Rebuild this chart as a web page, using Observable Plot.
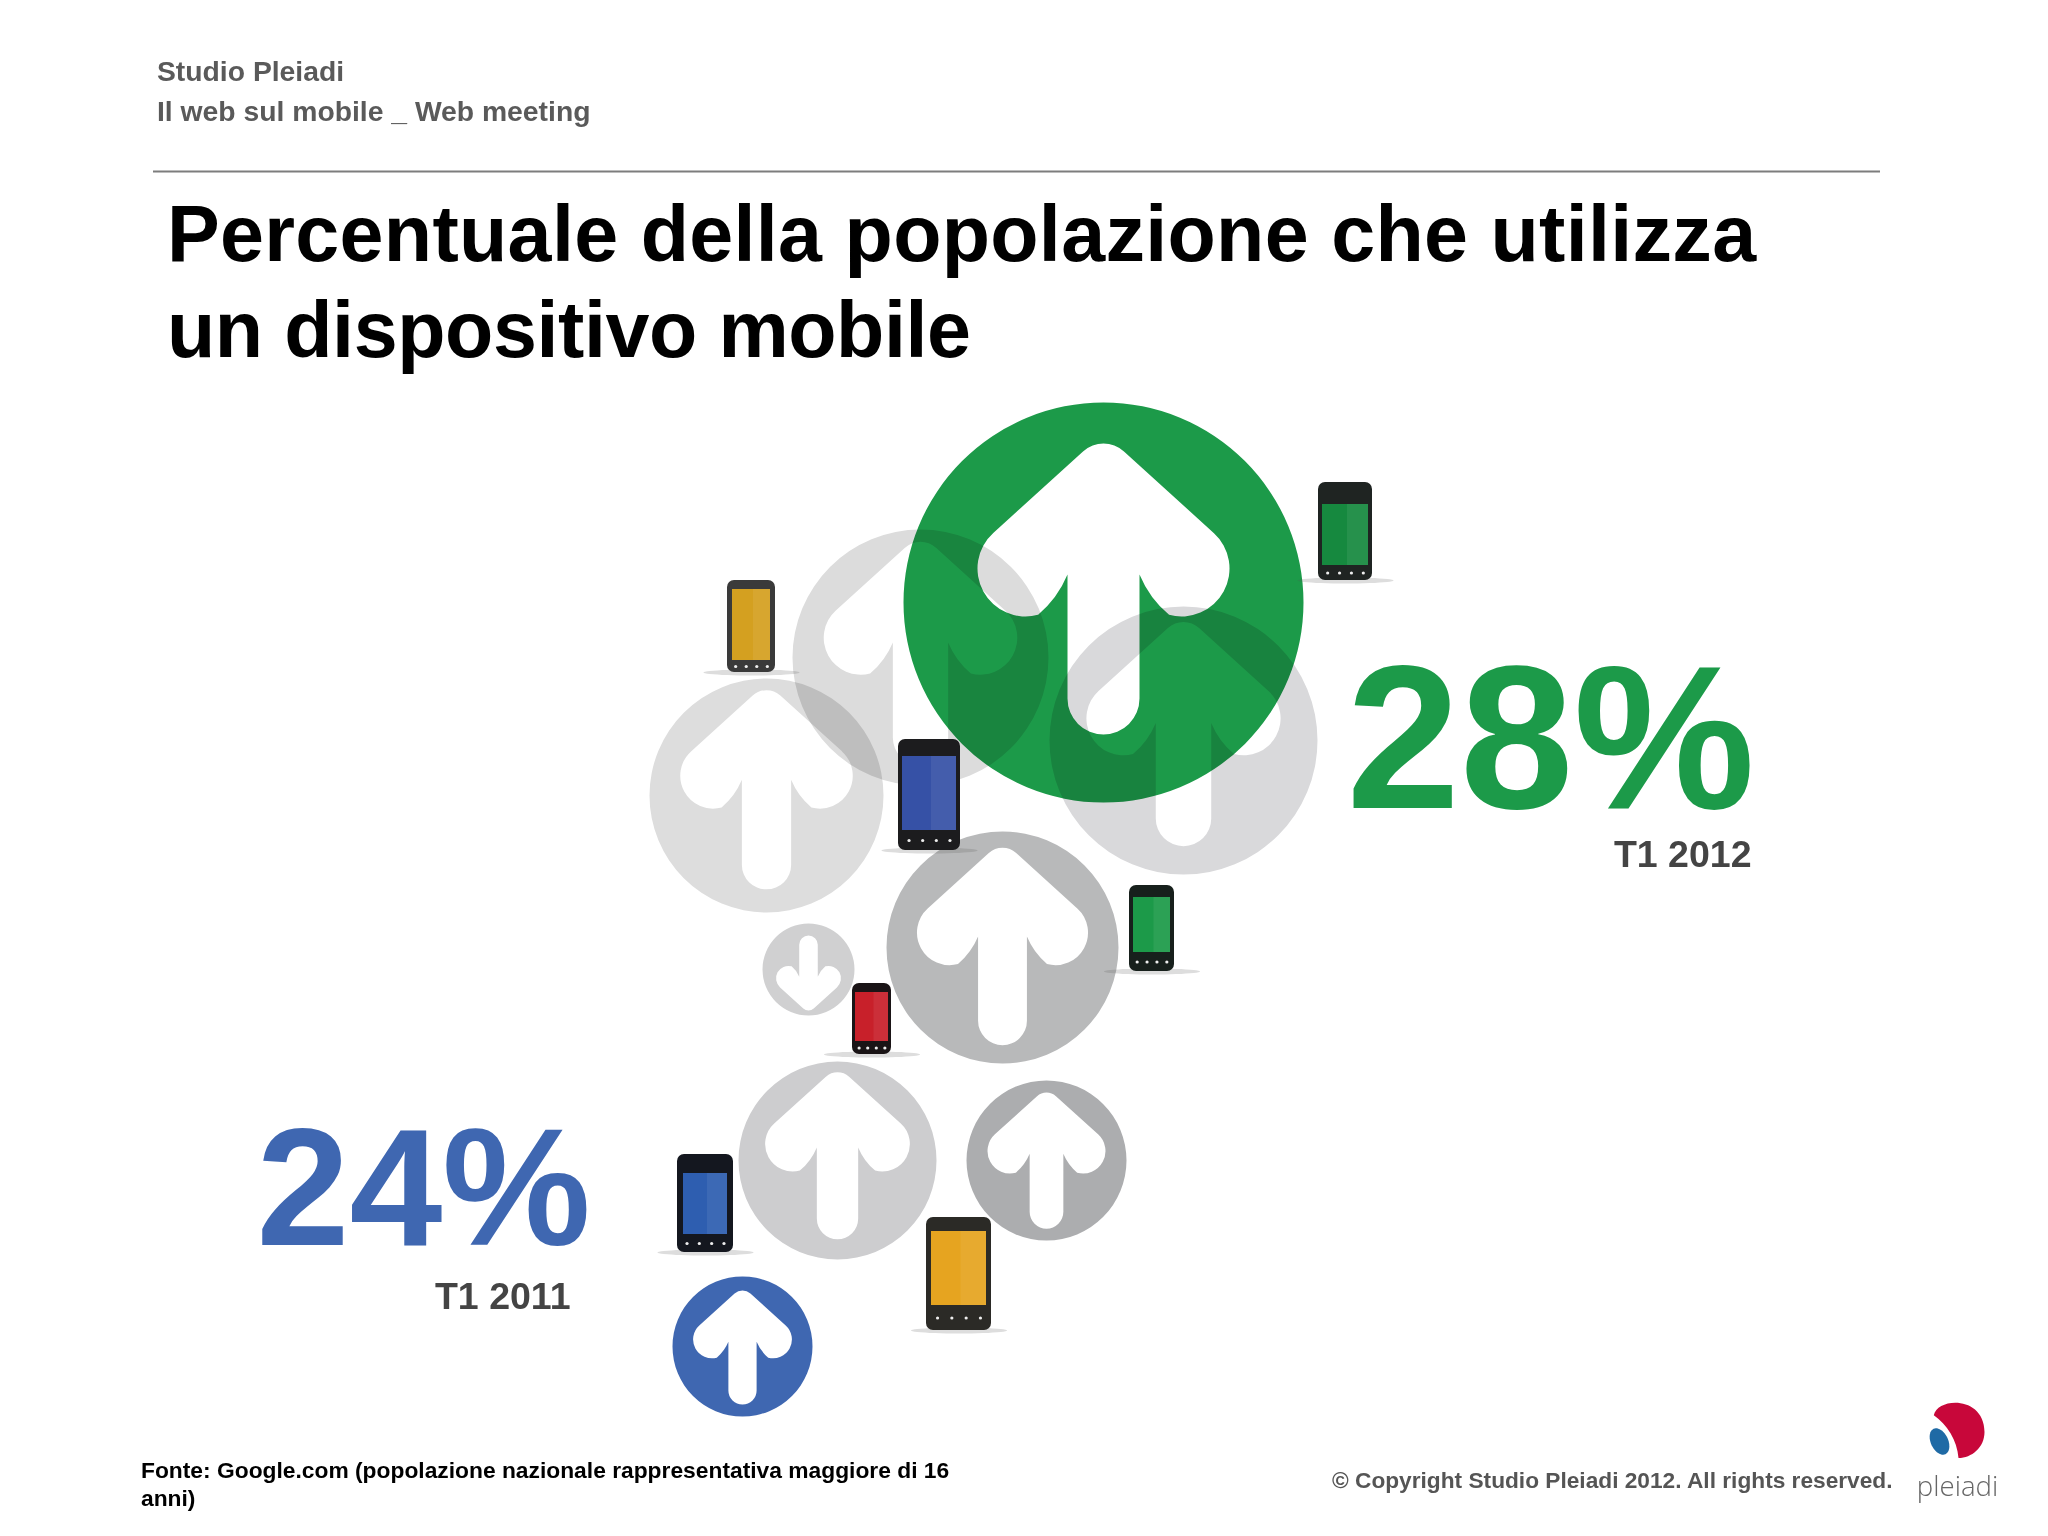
<!DOCTYPE html>
<html lang="it">
<head>
<meta charset="utf-8">
<script src="https://cdn.jsdelivr.net/npm/d3@7"></script>
<script src="https://cdn.jsdelivr.net/npm/@observablehq/plot@0.6"></script>
<style>
html,body{margin:0;padding:0;background:#fff;}
#page{position:relative;width:2048px;height:1536px;overflow:hidden;font-family:"Liberation Sans",Arial,sans-serif;}
.t{position:absolute;margin:0;font-weight:700;white-space:nowrap;}
svg{display:block;}
</style>
</head>
<body>
<div id="page">
<div class="t" style="left:157px;top:51px;font-size:28.3px;line-height:40px;color:#5a5a5a;">Studio Pleiadi<br>Il web sul mobile _ Web meeting</div>
<h1 class="t" style="left:167px;top:186px;font-size:79px;line-height:96px;color:#000;"><span style="letter-spacing:.32px">Percentuale della popolazione che utilizza</span><br><span style="letter-spacing:-.4px">un dispositivo mobile</span></h1>
<div class="t" style="left:141px;top:1457px;font-size:22.8px;line-height:27.5px;color:#000;">Fonte: Google.com (popolazione nazionale rappresentativa maggiore di 16<br>anni)</div>
<div class="t" style="left:1332px;top:1466px;font-size:22.7px;line-height:28px;color:#555;">© Copyright Studio Pleiadi 2012. All rights reserved.</div>
</div>
<script>
// Values shown by the chart
const periods = ["T1 2011", "T1 2012"];
const shares = [24, 28];
const shareColors = ["#3f67b1", "#1c9a49"];
const shareX = [256, 1346];
const shareY = [1191, 742];
const shareSize = [167, 204];
const periodX = [570, 1751];
const periodY = [1296, 854];

// Arrow bubbles
const bubbleX = [920, 1183, 766, 1002, 808, 837, 1046, 742, 1103];
const bubbleY = [657, 740, 795, 947, 969, 1160, 1160, 1346, 602];
const bubbleR = [128, 134, 117, 116, 46, 99, 80, 70, 200];
const bubbleFill = ["#dcdcdc", "#d9d9db", "#dddddd", "#b8b9ba", "#d0d0d1", "#cdcdcf", "#acadaf", "#3f67b1", "#1c9a49"];
const bubbleGlyph = [1.2, 1.15, 1.17, 1.17, 1.12, 1.16, 1.17, 1.12, 1];
const bubbleShift = [0.05, 0.03, 0.03, 0.07, 0, 0.03, 0.08, 0.09, 0];
const bubbleTurn = [0, 0, 0, 0, 180, 0, 0, 0, 0];

// Phones
const phoneX1 = [727, 898, 1318, 1129, 852, 677, 926];
const phoneX2 = [775, 960, 1372, 1174, 891, 733, 991];
const phoneY1 = [580, 739, 482, 885, 983, 1154, 1217];
const phoneY2 = [672, 850, 580, 971, 1054, 1252, 1330];
const screenTop = [589, 756, 504, 897, 992, 1173, 1231];
const screenBottom = [660, 830, 565, 952, 1041, 1234, 1305];
const phoneInset = [5, 4, 4, 4, 3, 6, 5];
const screenFill = ["#d4a020", "#3651a6", "#16893f", "#1c9a49", "#c8202a", "#2e5eb0", "#e6a420"];
const bodyFill = ["#3a3a3a", "#1c1c1e", "#1f2422", "#17201c", "#1a1416", "#14171f", "#2b2a26"];

// Logo
const logoParts = ["red", "blue"];
const logoX = [1958, 1939];
const logoY = [1429, 1441];
const logoFill = ["#c8073a", "#1f6aa5"];

function bubbleSymbol(scale, shift) {
  const a = 47.8 * Math.PI / 180;
  const deg = d => d * Math.PI / 180;
  return {
    draw(ctx, size) {
      const r = Math.sqrt(size / Math.PI), k = r * scale;
      const X = x => x * k, Y = y => y * k + shift * r;
      ctx.moveTo(r, 0);
      ctx.arc(0, 0, r, 0, 2 * Math.PI, true);
      ctx.closePath();
      ctx.moveTo(X(0.101), Y(-0.756));
      ctx.lineTo(X(0.551), Y(-0.348));
      ctx.arc(X(0.39), Y(-0.17), 0.24 * k, -a, deg(105), false);
      ctx.quadraticCurveTo(X(0.23), Y(-0.02), X(0.18), Y(-0.14));
      ctx.lineTo(X(0.18), Y(0.48));
      ctx.arc(X(0), Y(0.48), 0.18 * k, 0, Math.PI, false);
      ctx.lineTo(X(-0.18), Y(-0.14));
      ctx.quadraticCurveTo(X(-0.23), Y(-0.02), X(-0.328), Y(0.062));
      ctx.arc(X(-0.39), Y(-0.17), 0.24 * k, deg(75), Math.PI + a, false);
      ctx.lineTo(X(-0.101), Y(-0.756));
      ctx.arc(X(0), Y(-0.645), 0.15 * k, Math.PI + a, 2 * Math.PI - a, false);
      ctx.closePath();
    }
  };
}
const ellipseSymbol = (sx, sy) => ({
  draw(ctx, size) {
    const r = Math.sqrt(size / Math.PI);
    const n = 48;
    for (let i = 0; i < n; ++i) {
      const t = i / n * 2 * Math.PI;
      const x = sx * r * Math.cos(t), y = sy * r * Math.sin(t);
      i ? ctx.lineTo(x, y) : ctx.moveTo(x, y);
    }
    ctx.closePath();
  }
});
const beanSymbol = {
  draw(ctx, size) {
    const r = Math.sqrt(size / Math.PI);
    ctx.moveTo(-0.95 * r, -0.55 * r);
    ctx.bezierCurveTo(-0.8 * r, -1.25 * r, 1.0 * r, -1.3 * r, 1.0 * r, 0.1 * r);
    ctx.bezierCurveTo(1.0 * r, 0.7 * r, 0.5 * r, 1.1 * r, 0.0 * r, 1.1 * r);
    ctx.bezierCurveTo(-0.05 * r, 0.4 * r, -0.45 * r, -0.2 * r, -0.95 * r, -0.55 * r);
    ctx.closePath();
  }
};

const idx = d3.range(bubbleX.length);
const pIdx = d3.range(phoneX1.length);
const sIdx = d3.range(shares.length);
const buttons = pIdx.flatMap(i => [0.17, 0.39, 0.61, 0.83].map(f => ({i, f})));

const chart = Plot.plot({
  width: 2048, height: 1536,
  marginTop: 0, marginRight: 0, marginBottom: 0, marginLeft: 0,
  x: {domain: [0, 2048], axis: null},
  y: {domain: [1536, 0], axis: null},
  style: {background: "transparent", fontFamily: "'Liberation Sans', Arial, sans-serif"},
  marks: [
    Plot.ruleY([171], {x1: 153, x2: 1880, stroke: "#7d7d7d", strokeWidth: 2}),
    ...idx.map(i => Plot.dot([i], {
      x: j => bubbleX[j], y: j => bubbleY[j], r: bubbleR[i],
      symbol: bubbleSymbol(bubbleGlyph[i], bubbleShift[i]),
      rotate: bubbleTurn[i],
      fill: bubbleFill[i], stroke: "none",
      mixBlendMode: "multiply"
    })),
    Plot.dot(pIdx, {
      x: i => (phoneX1[i] + phoneX2[i]) / 2, y: i => phoneY2[i],
      r: 20, symbol: ellipseSymbol(2.4, 0.15), fill: "#555", fillOpacity: 0.2, stroke: "none"
    }),
    Plot.rect(pIdx, {
      x1: i => phoneX1[i], x2: i => phoneX2[i], y1: i => phoneY1[i], y2: i => phoneY2[i],
      fill: i => bodyFill[i], rx: 7
    }),
    Plot.rect(pIdx, {
      x1: i => phoneX1[i] + phoneInset[i], x2: i => phoneX2[i] - phoneInset[i],
      y1: i => screenTop[i], y2: i => screenBottom[i],
      fill: i => screenFill[i]
    }),
    Plot.rect(pIdx, {
      x1: i => (phoneX1[i] + phoneX2[i]) / 2 + 2, x2: i => phoneX2[i] - phoneInset[i],
      y1: i => screenTop[i], y2: i => screenBottom[i],
      fill: "#fff", fillOpacity: 0.07
    }),
    Plot.dot(buttons, {
      x: d => phoneX1[d.i] + d.f * (phoneX2[d.i] - phoneX1[d.i]),
      y: d => (screenBottom[d.i] + phoneY2[d.i]) / 2,
      r: 1.6, fill: "#eee", stroke: "none"
    }),
    Plot.text(sIdx, {
      x: i => shareX[i], y: i => shareY[i],
      text: i => `${shares[i]}%`, fill: i => shareColors[i],
      fontSize: i => shareSize[i], fontWeight: 700, textAnchor: "start"
    }),
    Plot.text(sIdx, {
      x: i => periodX[i], y: i => periodY[i],
      text: i => periods[i], fill: "#444", fontSize: 37.5, fontWeight: 700, textAnchor: "end"
    }),
    Plot.dot([0], {x: () => logoX[0], y: () => logoY[0], r: 26, symbol: beanSymbol, fill: logoFill[0], stroke: "none"}),
    Plot.dot([1], {x: () => logoX[1], y: () => logoY[1], r: 14, symbol: ellipseSymbol(0.62, 1), rotate: -25, fill: logoFill[1], stroke: "none"}),
    Plot.text(["pleiadi"], {x: 1957, y: 1487, text: d => d, fill: "#666", fontSize: 27.6, fontFamily: "'Open Sans', sans-serif", fontWeight: 300})
  ]
});
document.getElementById("page").prepend(chart);
chart.style.position = "absolute";
chart.style.left = "0";
chart.style.top = "0";
</script>
</body>
</html>
